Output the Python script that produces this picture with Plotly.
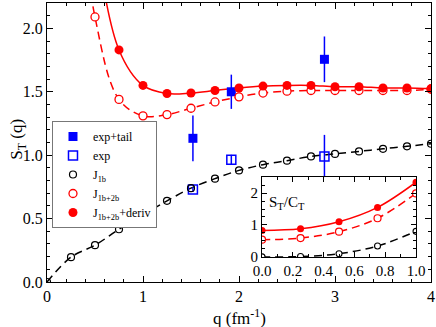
import plotly.graph_objects as go

# main panel data
q = [0.0, 0.25, 0.5, 0.75, 1.0, 1.25, 1.5, 1.75, 2.0, 2.25, 2.5, 2.75, 3.0, 3.25, 3.5, 3.75, 4.0]
s_1b = [0.0, 0.196, 0.29, 0.416, 0.53, 0.64, 0.74, 0.815, 0.88, 0.925, 0.957, 0.99, 1.01, 1.03, 1.05, 1.07, 1.09]

q_2b = [0.25, 0.5, 0.75, 1.0, 1.25, 1.5, 1.75, 2.0, 2.25, 2.5, 2.75, 3.0, 3.25, 3.5, 3.75, 4.0]
s_2b = [3.6, 2.09, 1.44, 1.31, 1.32, 1.37, 1.42, 1.46, 1.49, 1.505, 1.51, 1.51, 1.51, 1.51, 1.51, 1.52]

q_deriv = [0.5, 0.75, 1.0, 1.25, 1.5, 1.75, 2.0, 2.25, 2.5, 2.75, 3.0, 3.25, 3.5, 3.75, 4.0]
s_deriv = [2.75, 1.83, 1.55, 1.486, 1.49, 1.51, 1.53, 1.545, 1.55, 1.55, 1.54, 1.54, 1.53, 1.53, 1.525]

# experiment
q_exp = [1.52, 1.92, 2.89]
s_tail = [1.133, 1.50, 1.756]
err_tail = [0.18, 0.135, 0.18]
s_exp = [0.73, 0.963, 0.99]
err_exp = [0.02, 0.04, 0.17]

# inset S_T / C_T
q_in = [0.0, 0.25, 0.5, 0.75, 1.0]
r_1b = [0.0, 0.01, 0.1, 0.34, 0.80]
r_2b = [0.54, 0.59, 0.79, 1.21, 1.99]
r_deriv = [0.83, 0.88, 1.10, 1.55, 2.34]

RED = "#ff0000"
BLUE = "#0000ff"
FONT = "Liberation Serif, Times New Roman, serif"
DASH = "8px,5px"

fig = go.Figure()

# curves (no legend), then markers with legend
fig.add_trace(go.Scatter(x=q, y=s_1b, mode="lines", line=dict(color="black", width=1.5, dash=DASH, shape="spline"), showlegend=False))
fig.add_trace(go.Scatter(x=q_2b, y=s_2b, mode="lines", line=dict(color=RED, width=1.5, dash=DASH, shape="spline"), showlegend=False))
fig.add_trace(go.Scatter(x=q_deriv, y=s_deriv, mode="lines", line=dict(color=RED, width=1.5, shape="spline"), showlegend=False))

fig.add_trace(go.Scatter(x=q_exp, y=s_tail, mode="markers", name="exp+tail",
                         marker=dict(symbol="square", size=9, color=BLUE),
                         error_y=dict(type="data", array=err_tail, color=BLUE, thickness=1.5, width=0)))
fig.add_trace(go.Scatter(x=q_exp, y=s_exp, mode="markers", name="exp",
                         marker=dict(symbol="square-open", size=9, color=BLUE, line=dict(width=1.5)),
                         error_y=dict(type="data", array=err_exp, color=BLUE, thickness=1.5, width=0)))
fig.add_trace(go.Scatter(x=q, y=s_1b, mode="markers", name="J<sub>1b</sub>",
                         marker=dict(symbol="circle-open", size=7, color="black", line=dict(width=1.2))))
fig.add_trace(go.Scatter(x=q_2b, y=s_2b, mode="markers", name="J<sub>1b+2b</sub>",
                         marker=dict(symbol="circle", size=8, color="white", line=dict(width=1.3, color=RED))))
fig.add_trace(go.Scatter(x=q_deriv, y=s_deriv, mode="markers", name="J<sub>1b+2b</sub>+deriv",
                         marker=dict(symbol="circle", size=9, color=RED)))

# inset
fig.add_trace(go.Scatter(x=q_in, y=r_1b, mode="lines+markers", xaxis="x2", yaxis="y2", showlegend=False,
                         line=dict(color="black", width=1.5, dash=DASH, shape="spline"),
                         marker=dict(symbol="circle", size=6, color="white", line=dict(width=1.1, color="black"))))
fig.add_trace(go.Scatter(x=q_in, y=r_2b, mode="lines+markers", xaxis="x2", yaxis="y2", showlegend=False,
                         line=dict(color=RED, width=1.5, dash=DASH, shape="spline"),
                         marker=dict(symbol="circle", size=7, color="white", line=dict(width=1.2, color=RED))))
fig.add_trace(go.Scatter(x=q_in, y=r_deriv, mode="lines+markers", xaxis="x2", yaxis="y2", showlegend=False,
                         line=dict(color=RED, width=1.5, shape="spline"),
                         marker=dict(symbol="circle", size=7, color=RED)))

axis_common = dict(showline=True, linecolor="black", linewidth=1, mirror="ticks", ticks="inside",
                   tickcolor="black", showgrid=False, zeroline=False, automargin=False)

fig.update_layout(
    width=436, height=327,
    margin=dict(l=47, r=5, t=3, b=45),
    plot_bgcolor="white", paper_bgcolor="white",
    font=dict(family=FONT, size=15, color="black"),
    xaxis=dict(range=[0, 4], dtick=1, ticklen=6, tickfont=dict(family=FONT, size=16),
               minor=dict(dtick=0.2, ticks="inside", ticklen=3, tickcolor="black"),
               **axis_common),
    yaxis=dict(range=[0, 2.2], dtick=0.5, tickformat=".1f", ticklen=6, tickfont=dict(family=FONT, size=16),
               minor=dict(dtick=0.1, ticks="inside", ticklen=3, tickcolor="black"),
               **axis_common),
    xaxis2=dict(domain=[0.56, 0.961], anchor="y2", range=[0, 1], dtick=0.2, tickformat=".1f", ticklen=5,
                minor=dict(dtick=0.1, ticks="inside", ticklen=3, tickcolor="black"),
                tickfont=dict(family=FONT, size=15), **axis_common),
    yaxis2=dict(domain=[0.09, 0.376], anchor="x2", range=[0, 2.5], dtick=1, ticklen=5,
                minor=dict(dtick=0.25, ticks="inside", ticklen=3, tickcolor="black"),
                tickfont=dict(family=FONT, size=15), **axis_common),
    legend=dict(x=0.013, y=0.577, xanchor="left", yanchor="top", bgcolor="white",
                bordercolor="#777777", borderwidth=1, font=dict(family=FONT, size=12),
                tracegroupgap=0, itemwidth=30),
    annotations=[
        dict(x=0.16, y=1.7, xref="x2", yref="y2", text="S<sub>T</sub>/C<sub>T</sub>",
             showarrow=False, font=dict(family=FONT, size=15)),
        dict(x=0.5, y=-0.125, xref="paper", yref="paper", xanchor="center", yanchor="middle",
             text="q (fm<sup>-1</sup>)", showarrow=False, font=dict(family=FONT, size=17)),
        dict(x=-0.0755, y=0.51, xref="paper", yref="paper", xanchor="center", yanchor="middle",
             text="S<sub>T</sub> (q)", showarrow=False, textangle=-90, font=dict(family=FONT, size=17)),
    ],
    shapes=[dict(type="rect", xref="x2 domain", yref="y2 domain", x0=0, x1=1, y0=0, y1=1,
                 fillcolor="white", line=dict(width=0), layer="below")],
)

fig.write_html("out.html", config={"displayModeBar": False},
               post_script="document.body.style.margin='0';")
